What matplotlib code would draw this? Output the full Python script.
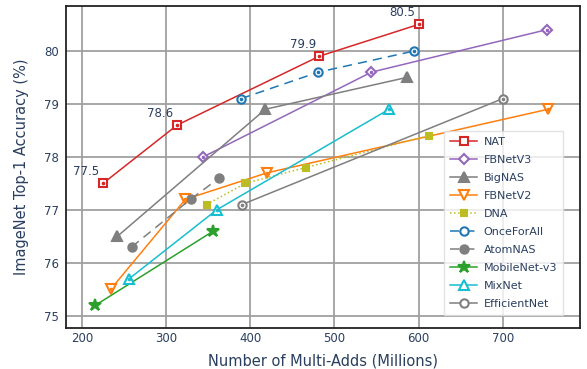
import matplotlib.pyplot as plt

# ImageNet top-1 accuracy vs. multi-adds for several NAS models
nat_x = [225, 313, 482, 600]
nat_y = [77.5, 78.6, 79.9, 80.5]
fbnetv3_x = [344, 544, 752]
fbnetv3_y = [78.0, 79.6, 80.4]
bignas_x = [242, 418, 586]
bignas_y = [76.5, 78.9, 79.5]
fbnetv2_x = [234, 323, 420, 754]
fbnetv2_y = [75.5, 77.2, 77.7, 78.9]
dna_x = [348, 394, 466, 612]
dna_y = [77.1, 77.5, 77.8, 78.4]
ofa_x = [389, 481, 595]
ofa_y = [79.1, 79.6, 80.0]
atomnas_x = [259, 329, 363]
atomnas_y = [76.3, 77.2, 77.6]
mbv3_x = [216, 356]
mbv3_y = [75.2, 76.6]
mixnet_x = [256, 360, 565]
mixnet_y = [75.7, 77.0, 78.9]
effnet_x = [390, 700]
effnet_y = [77.1, 79.1]

FONT_COLOR = "#2a3f5f"

series = [
    ("NAT", nat_x, nat_y, "#d62728", "s", "-", True, False),
    ("FBNetV3", fbnetv3_x, fbnetv3_y, "#9467bd", "D", "-", True, False),
    ("BigNAS", bignas_x, bignas_y, "#7f7f7f", "^", "-", False, True),
    ("FBNetV2", fbnetv2_x, fbnetv2_y, "#ff7f0e", "v", "-", True, False),
    ("DNA", dna_x, dna_y, "#bcbd22", "s", ":", False, True),
    ("OnceForAll", ofa_x, ofa_y, "#1f77b4", "o", (0, (6, 4)), True, False),
    ("AtomNAS", atomnas_x, atomnas_y, "#7f7f7f", "o", (0, (6, 4)), False, True),
    ("MobileNet-v3", mbv3_x, mbv3_y, "#2ca02c", "*", "-", False, True),
    ("MixNet", mixnet_x, mixnet_y, "#17becf", "^", "-", True, False),
    ("EfficientNet", effnet_x, effnet_y, "#7f7f7f", "o", "-", True, False),
]
marker_size = {"s": 5.5, "D": 5.5, "^": 6.5, "v": 6.5, "o": 6, "*": 9}

fig = plt.figure(figsize=(5.87, 3.69), dpi=100)
ax = fig.add_axes([0.1124, 0.111, 0.876, 0.873])

for name, xs, ys, color, marker, ls, open_dot, filled in series:
    size = 5 if name == "DNA" else marker_size[marker]
    ax.plot(xs, ys, linestyle=ls, color=color, linewidth=1.1,
            marker=marker, markersize=size,
            markerfacecolor=color if filled else "white",
            markeredgecolor=color, markeredgewidth=1.5,
            label=name, zorder=3)
    if open_dot:
        ax.plot(xs, ys, linestyle="none", marker="o", markersize=1.6,
                color=color, zorder=4)

# value labels on the NAT curve
for x, y in zip(nat_x, nat_y):
    ax.annotate(f"{y}", (x, y), xytext=(-12, 4), textcoords="offset points",
                ha="center", va="bottom", fontsize=8.5, color=FONT_COLOR)

ax.set_xlim(181, 792)
ax.set_ylim(74.77, 80.85)
ax.set_xticks([200, 300, 400, 500, 600, 700])
ax.set_yticks([75, 76, 77, 78, 79, 80])
ax.grid(True, color="#a0a0a0", linewidth=1.3, zorder=0)
ax.set_axisbelow(True)
for spine in ax.spines.values():
    spine.set_color("#222222")
    spine.set_linewidth(1.3)
ax.tick_params(length=0, labelsize=8.5, labelcolor=FONT_COLOR)
ax.tick_params(axis="x", pad=3)
ax.tick_params(axis="y", pad=5)
ax.set_xlabel("Number of Multi-Adds (Millions)", fontsize=10.5,
              color=FONT_COLOR, labelpad=6)
ax.set_ylabel("ImageNet Top-1 Accuracy (%)", fontsize=10.5,
              color=FONT_COLOR, labelpad=11)

leg = ax.legend(loc="lower right", bbox_to_anchor=(0.967, 0.04),
                fontsize=8, frameon=True, fancybox=False,
                handlelength=2.4, labelspacing=0.72, borderpad=0.55,
                handletextpad=0.6, borderaxespad=0)
leg.get_frame().set_edgecolor("#dddddd")
leg.get_frame().set_linewidth(1.0)
for text in leg.get_texts():
    text.set_color(FONT_COLOR)

fig.savefig("out.png", dpi=100)
